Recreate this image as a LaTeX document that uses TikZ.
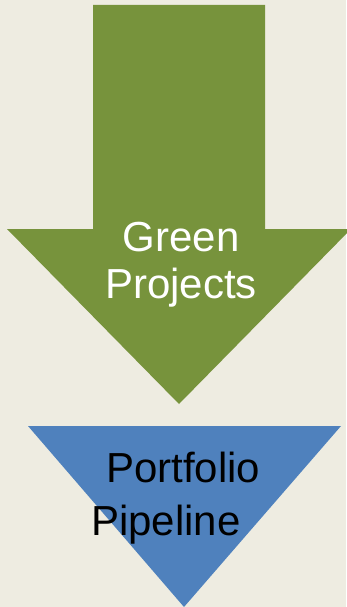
\documentclass[tikz,border=0pt]{standalone}
\usepackage{fontspec}
\setmainfont{Liberation Sans}
\definecolor{bgbeige}{HTML}{EEECE1}
\definecolor{arrowgreen}{HTML}{77933C}
\definecolor{funnelblue}{HTML}{4F81BD}
\begin{document}
\begin{tikzpicture}[
		x=1pt, y=-1pt,
		label/.style={font=\fontsize{42}{48}\selectfont, inner sep=0pt, anchor=base}
	]

		%background
		\fill[bgbeige] (0,0) rectangle (346,607);
		\useasboundingbox (0,0) rectangle (346,607);

		%arrow
		\fill[arrowgreen] (93,5) -- (265,5) -- (265,229) -- (351,229) -- (179,404) -- (7,229) -- (93,229) -- cycle;
		\node[label, white] (green) at (181,251) {Green};
		\node[label, white] (projects) at (181,298) {Projects};

		%funnel
		\fill[funnelblue] (28,426) -- (341,426) -- (184,607) -- cycle;
		\node[label, black, anchor=base west] (portfolio) at (106,482) {Portfolio};
		\node[label, black, anchor=base west] (pipeline) at (91,535) {Pipeline};
	\end{tikzpicture}
\end{document}
